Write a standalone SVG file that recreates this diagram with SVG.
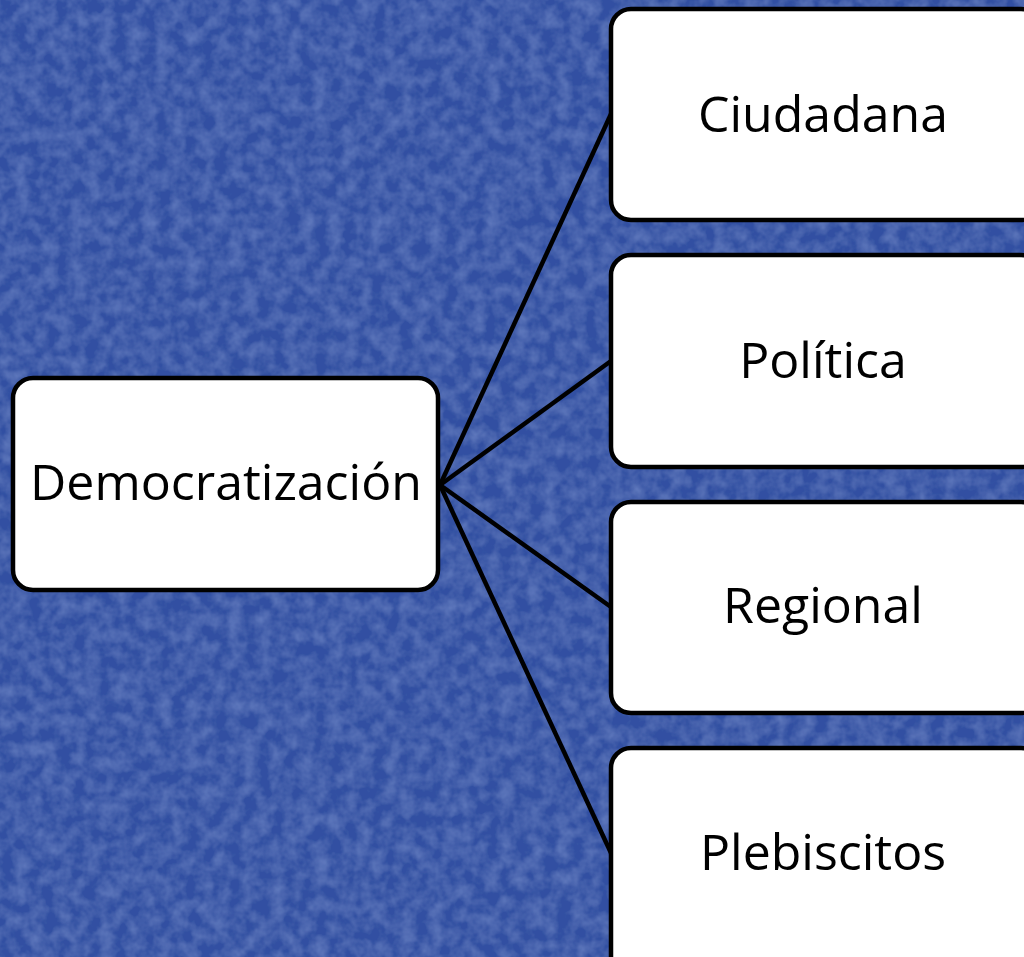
<svg xmlns="http://www.w3.org/2000/svg" width="1024" height="957" viewBox="0 0 1024 957">
<defs>
<filter id="tex" x="0" y="0" width="100%" height="100%">
<feTurbulence type="fractalNoise" baseFrequency="0.07" numOctaves="3" seed="4" result="n"/>
<feColorMatrix in="n" type="matrix" values="0 0 0 0 0.26  0 0 0 0 0.38  0 0 0 0 0.76  0 0 0 0.6 -0.2" result="c"/>
<feComposite in="c" in2="SourceGraphic" operator="over"/>
</filter>
<style>
.box{fill:#ffffff;stroke:#000000;stroke-width:4.5}
.lbl{font-family:"Open Sans","Noto Sans","DejaVu Sans",sans-serif;font-size:50px;fill:#000000;text-anchor:middle}
.con{stroke:#000000;stroke-width:4.5;fill:none}
</style>
</defs>
<rect x="0" y="0" width="1024" height="957" fill="#3150a2" filter="url(#tex)"/>
<g id="connectors">
<line class="con" x1="440" y1="485" x2="611" y2="114"/>
<line class="con" x1="440" y1="485" x2="611" y2="361"/>
<line class="con" x1="440" y1="485" x2="611" y2="607"/>
<line class="con" x1="440" y1="485" x2="611" y2="853"/>
</g>
<g id="democratizacion">
<rect class="box" x="13" y="378" width="425" height="212" rx="20"/>
<text class="lbl" x="226" y="500">Democratización</text>
</g>
<g id="ciudadana">
<rect class="box" x="611" y="9" width="430" height="211" rx="20"/>
<text class="lbl" x="823" y="132">Ciudadana</text>
</g>
<g id="politica">
<rect class="box" x="611" y="255" width="430" height="212" rx="20"/>
<text class="lbl" x="823" y="378">Política</text>
</g>
<g id="regional">
<rect class="box" x="611" y="502" width="430" height="211" rx="20"/>
<text class="lbl" x="823" y="623">Regional</text>
</g>
<g id="plebiscitos">
<rect class="box" x="611" y="748" width="430" height="230" rx="20"/>
<text class="lbl" x="823" y="870">Plebiscitos</text>
</g>
</svg>
